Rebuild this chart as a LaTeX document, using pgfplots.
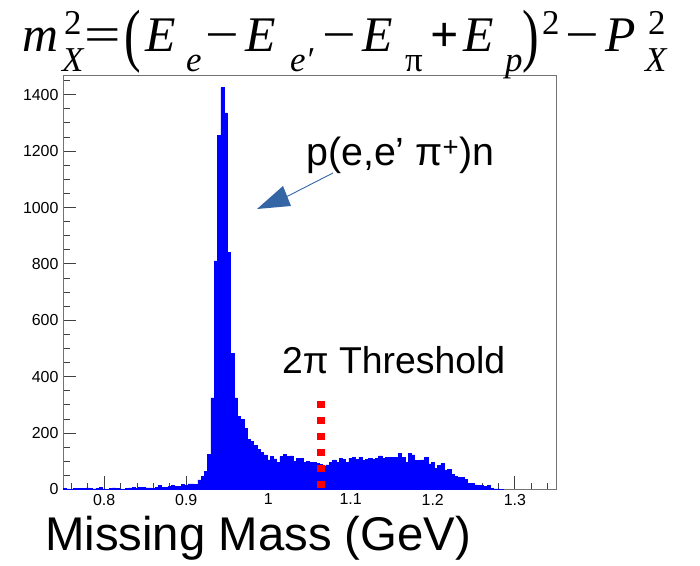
\documentclass[border=0pt]{standalone}
\usepackage{pgfplots}
\usepackage{pgfplotstable}
\pgfplotsset{compat=1.18}
\usepackage{fontspec}
\setmainfont{Liberation Sans}
\newfontfamily\tserif{Liberation Serif}
\definecolor{arrowc}{RGB}{52,101,164}
\pgfplotstableread{
x y
0.750 3
0.754 2
0.758 1
0.762 4
0.766 4
0.770 3
0.774 4
0.778 6
0.782 3
0.786 2
0.790 3
0.794 8
0.798 2
0.802 1
0.806 3
0.810 6
0.814 5
0.818 2
0.822 1
0.826 5
0.830 6
0.834 7
0.838 5
0.842 7
0.846 8
0.850 6
0.854 6
0.858 5
0.862 8
0.866 14
0.870 8
0.874 7
0.878 10
0.882 14
0.886 12
0.890 12
0.894 18
0.898 14
0.902 20
0.906 20
0.910 18
0.914 34
0.918 47
0.922 63
0.926 125
0.930 325
0.934 811
0.938 1255
0.942 1425
0.946 1336
0.950 840
0.954 483
0.958 325
0.962 260
0.966 248
0.970 216
0.974 179
0.978 170
0.982 156
0.986 141
0.990 132
0.994 123
0.998 105
1.002 117
1.006 109
1.010 97
1.014 117
1.018 125
1.022 117
1.026 119
1.030 99
1.034 111
1.038 111
1.042 96
1.046 99
1.050 96
1.054 96
1.058 93
1.062 90
1.066 84
1.070 87
1.074 96
1.078 105
1.082 96
1.086 111
1.090 108
1.094 96
1.098 111
1.102 113
1.106 108
1.110 115
1.114 103
1.118 107
1.122 111
1.126 107
1.130 111
1.134 119
1.138 111
1.142 113
1.146 113
1.150 113
1.154 115
1.158 127
1.162 113
1.166 97
1.170 127
1.174 123
1.178 102
1.182 104
1.186 105
1.190 113
1.194 91
1.198 97
1.202 75
1.206 85
1.210 93
1.214 67
1.218 72
1.222 54
1.226 46
1.230 43
1.234 43
1.238 37
1.242 22
1.246 22
1.250 16
1.254 14
1.258 14
1.262 12
1.266 14
1.270 4
1.274 2
1.278 2
1.282 1
1.286 0
}\histo
\newcommand\T[3]{\node[anchor=base west,inner sep=0pt] at (#1,566-#2) {#3};}
\begin{document}
\begin{tikzpicture}[x=1bp,y=1bp]
\useasboundingbox (0,0) rectangle (700,566);
\begin{axis}[at={(63bp,76.5bp)}, anchor=south west, scale only axis,
  width=493bp, height=414.5bp,
  xmin=0.75, xmax=1.35, ymin=0, ymax=1470,
  xtick={0.8,0.9,1,1.1,1.2,1.3},
  xticklabels={0.8,0.9,1,1.1,1.2,1.3},
  minor xtick={0.76,0.78,...,1.345},
  ytick={0,200,...,1400},
  minor ytick={50,100,...,1450},
  xtick pos=lower, ytick pos=left,
  tick align=inside,
  major tick length=13bp, minor tick length=6.5bp,
  axis line style={black!55, line width=0.9bp},
  every tick/.style={black!75, line width=0.9bp},
  ticklabel style={font=\fontsize{16}{16}\selectfont},
  /pgf/number format/assume math mode=true,
  /pgf/number format/set thousands separator={},
  yticklabel style={xshift=-1bp},
  xticklabel style={yshift=-1bp},
  clip=true]
\addplot[const plot mark left, fill=blue, draw=blue, line width=0.5bp] table[x=x,y=y] {\histo} \closedcycle;
\addplot[red, line width=7.8bp, dash pattern=on 6.8bp off 9.2bp] coordinates {(1.0642,313) (1.0642,0)};
\end{axis}
% annotations
\fill[arrowc] (257,357) -- (283,380) -- (291,360) -- cycle;
\draw[arrowc, line width=0.9bp] (286,369) -- (333,393);
\T{306}{166}{\fontsize{39.5}{39.5}\selectfont p(e,e’ π\textsuperscript{+})n}
\T{282}{374}{\fontsize{37.5}{37.5}\selectfont 2π Threshold}
\T{45}{551}{\fontsize{47.5}{47.5}\selectfont Missing Mass (GeV)}
% title formula
\begin{scope}[every node/.style={inner sep=0pt}]
\tserif
\T{22}{52}{\fontsize{50}{50}\selectfont\itshape m}
\T{64}{35}{\fontsize{35}{35}\selectfont 2}
\T{62}{72}{\fontsize{35}{35}\selectfont\itshape X}
\T{84}{52}{\fontsize{50}{50}\selectfont\scalebox{1.3}[1]{=}}
\T{124}{52}{\fontsize{50}{50}\selectfont\raisebox{-7bp}{\scalebox{1.0}[1.4]{(}}}
\T{145}{52}{\fontsize{50}{50}\selectfont\itshape E}
\T{186}{72}{\fontsize{35}{35}\selectfont\itshape e}
\T{205}{52}{\fontsize{50}{50}\selectfont\scalebox{1.2}[1]{−}}
\T{245}{52}{\fontsize{50}{50}\selectfont\itshape E}
\T{290}{72}{\fontsize{35}{35}\selectfont\itshape e′}
\T{322}{52}{\fontsize{50}{50}\selectfont\scalebox{1.2}[1]{−}}
\T{362}{52}{\fontsize{50}{50}\selectfont\itshape E}
\T{405}{72}{\fontsize{35}{35}\selectfont π}
\T{430}{52}{\fontsize{50}{50}\selectfont\bfseries +}
\T{463}{52}{\fontsize{50}{50}\selectfont\itshape E}
\T{505}{72}{\fontsize{35}{35}\selectfont\itshape p}
\T{522}{52}{\fontsize{50}{50}\selectfont\raisebox{-7bp}{\scalebox{1.0}[1.4]{)}}}
\T{542}{35}{\fontsize{35}{35}\selectfont 2}
\T{565}{52}{\fontsize{50}{50}\selectfont\scalebox{1.2}[1]{−}}
\T{605}{52}{\fontsize{50}{50}\selectfont\itshape P}
\T{648}{35}{\fontsize{35}{35}\selectfont 2}
\T{645}{72}{\fontsize{35}{35}\selectfont\itshape X}
\end{scope}
\end{tikzpicture}
\end{document}
